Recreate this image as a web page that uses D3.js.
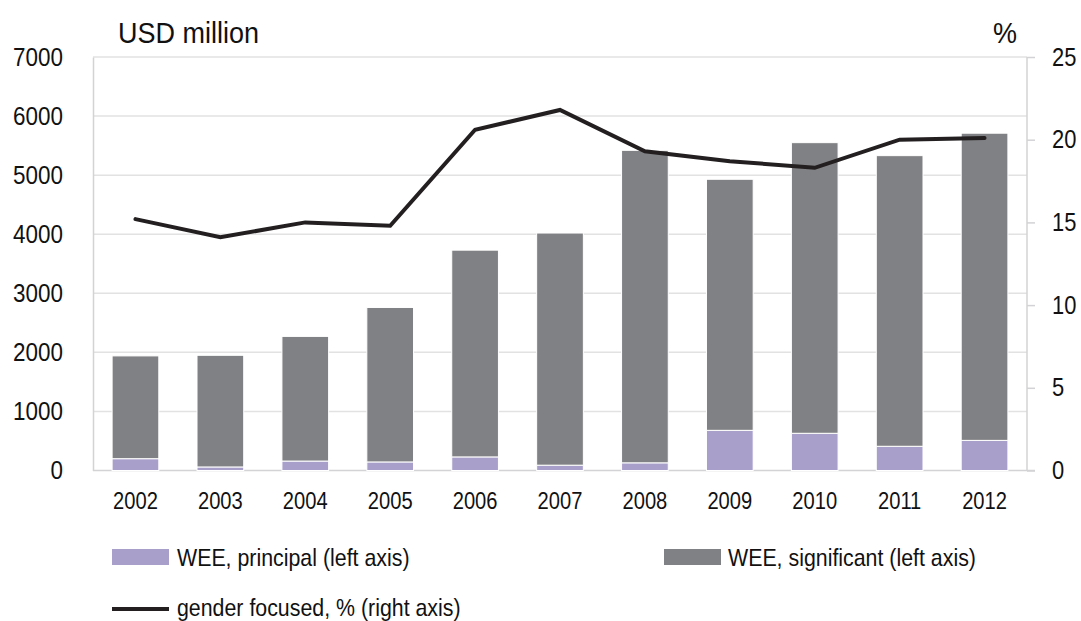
<!DOCTYPE html>
<html>
<head>
<meta charset="utf-8">
<script src="https://cdn.jsdelivr.net/npm/d3@7"></script>
<style>
  html, body { margin: 0; padding: 0; background: #ffffff; }
  svg { display: block; }
  text { font-family: "Liberation Sans", Arial, sans-serif; fill: #111111; }
</style>
</head>
<body>
<svg id="chart" width="1081" height="621"></svg>
<script>
const years = ["2002","2003","2004","2005","2006","2007","2008","2009","2010","2011","2012"];
const principal = [200, 60, 160, 145, 230, 90, 130, 680, 630, 410, 510];
const total = [1940, 1950, 2270, 2760, 3730, 4020, 5420, 4930, 5550, 5330, 5710];
const significant = total.map((t, i) => t - principal[i]);
const genderPct = [15.2, 14.1, 15.0, 14.8, 20.6, 21.8, 19.3, 18.7, 18.3, 20.0, 20.1];
const leftTicks = [0, 1000, 2000, 3000, 4000, 5000, 6000, 7000];
const rightTicks = [0, 5, 10, 15, 20, 25];

const svg = d3.select("#chart");
const m = { left: 93, right: 1027, top: 57, bottom: 470.5 };

function squeeze(sel, s) {
  sel.each(function () {
    const t = d3.select(this);
    const xv = +t.attr("x") || 0;
    t.attr("x", xv / s).attr("transform", `scale(${s},1)`);
  });
}
function label(parent, x, y, s, size, str, anchor) {
  return parent.append("text")
    .attr("transform", `translate(${x},${y}) scale(${s},1)`)
    .attr("font-size", size)
    .attr("text-anchor", anchor || "start")
    .text(str);
}

const x = d3.scaleBand().domain(years).range([m.left, m.right]).paddingInner(0.45).paddingOuter(0.225);
const yL = d3.scaleLinear().domain([0, 7000]).range([m.bottom, m.top]);
const yR = d3.scaleLinear().domain([0, 25]).range([m.bottom, m.top]);

// gridlines
svg.append("g").selectAll("line").data(leftTicks.filter(d => d > 0)).join("line")
  .attr("x1", m.left).attr("x2", m.right)
  .attr("y1", d => yL(d)).attr("y2", d => yL(d))
  .attr("stroke", "#e2e2e2").attr("stroke-width", 1.5);

// left axis
const gL = svg.append("g").attr("transform", `translate(${m.left},0)`)
  .call(d3.axisLeft(yL).tickValues(leftTicks).tickFormat(d3.format("d")).tickSize(0).tickPadding(30));
gL.attr("font-family", null);
gL.select(".domain").attr("stroke", "#d3d3d5").attr("stroke-width", 1.5);
gL.selectAll("text").attr("font-size", 25.5).attr("fill", "#111");
squeeze(gL.selectAll("text"), 0.88);

// right axis
const gR = svg.append("g").attr("transform", `translate(${m.right},0)`)
  .call(d3.axisRight(yR).tickValues(rightTicks).tickSize(8).tickPadding(17));
gR.attr("font-family", null);
gR.select(".domain").attr("stroke", "#d3d3d5").attr("stroke-width", 1.5).attr("d", `M0,${m.top}V${m.bottom}`);
gR.selectAll(".tick line").attr("stroke", "#d3d3d5").attr("stroke-width", 1.5);
gR.selectAll("text").attr("font-size", 25.5).attr("fill", "#111");
squeeze(gR.selectAll("text"), 0.86);

// bottom axis
const gB = svg.append("g").attr("transform", `translate(0,${m.bottom})`)
  .call(d3.axisBottom(x).tickSize(0).tickPadding(21));
gB.attr("font-family", null);
gB.select(".domain").attr("stroke", "#d3d3d5").attr("stroke-width", 1.5).attr("d", `M${m.left},0H${m.right + 8}`);
gB.selectAll("text").attr("font-size", 24).attr("fill", "#111");
squeeze(gB.selectAll("text"), 0.84);

// stacked bars
const stackData = years.map((y, i) => ({ year: y, principal: principal[i], significant: significant[i] }));
const series = d3.stack().keys(["principal", "significant"])(stackData);
const colors = { principal: "#a99fcb", significant: "#808184" };
svg.append("g").selectAll("g").data(series).join("g")
  .attr("fill", d => colors[d.key])
  .selectAll("rect").data(d => d).join("rect")
  .attr("x", d => x(d.data.year))
  .attr("width", x.bandwidth())
  .attr("y", d => yL(d[1]))
  .attr("height", d => yL(d[0]) - yL(d[1]))
  .attr("stroke", "#ffffff").attr("stroke-width", 1);

// line
const line = d3.line().x((d, i) => x(years[i]) + x.bandwidth() / 2).y(d => yR(d));
svg.append("path").datum(genderPct)
  .attr("d", line).attr("fill", "none")
  .attr("stroke", "#231f20").attr("stroke-width", 4)
  .attr("stroke-linejoin", "miter").attr("stroke-linecap", "round");

// axis titles
label(svg, 118, 43, 0.9, 30, "USD million");
label(svg, 1017, 43, 0.9, 30, "%", "end");

// legend
const lg = svg.append("g");
lg.append("rect").attr("x", 112).attr("y", 549).attr("width", 57).attr("height", 16).attr("fill", colors.principal);
label(lg, 177, 566, 0.89, 24, "WEE, principal (left axis)");
lg.append("rect").attr("x", 664).attr("y", 549).attr("width", 57).attr("height", 16).attr("fill", colors.significant);
label(lg, 728, 566, 0.89, 24, "WEE, significant (left axis)");
lg.append("line").attr("x1", 112).attr("x2", 169).attr("y1", 609).attr("y2", 609)
  .attr("stroke", "#231f20").attr("stroke-width", 4);
label(lg, 177, 616, 0.89, 24, "gender focused, % (right axis)");
</script>
</body>
</html>
